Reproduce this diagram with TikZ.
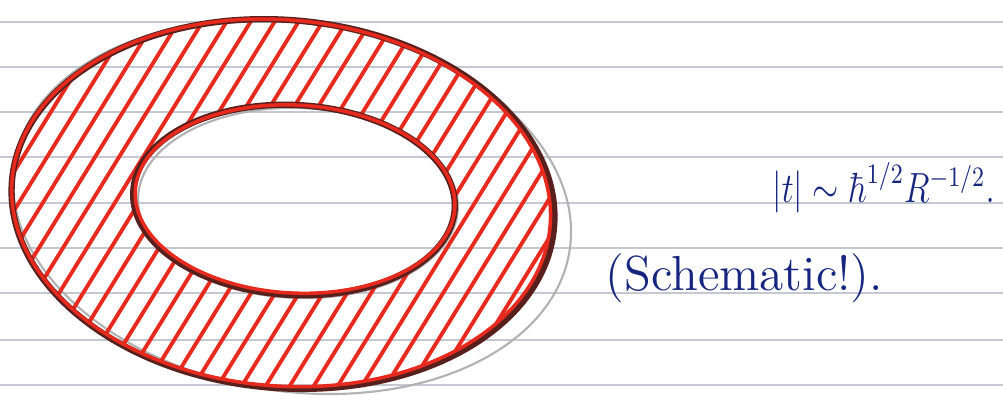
\documentclass[tikz,border=0pt]{standalone}
\usepackage{tikz}
\usetikzlibrary{positioning}
\definecolor{ink}{RGB}{22,38,128}
\definecolor{redpen}{RGB}{232,42,30}
\definecolor{darkpen}{RGB}{88,32,28}
\definecolor{ruling}{RGB}{196,200,210}
\definecolor{pencil}{RGB}{178,178,178}

\begin{document}
\begin{tikzpicture}[x=0.01cm, y=-0.01cm,
		rule/.style={draw=ruling, line width=0.7pt},
		sketch/.style={draw=pencil, line width=0.6pt},
		outline/.style={draw=darkpen, line width=1.8pt},
		redline/.style={draw=redpen, line width=1pt},
		hatch/.style={draw=redpen, line width=1.1pt},
		note/.style={text=ink, inner sep=0pt, anchor=base west}]
	
	\fill[white] (0,0) rectangle (1003,405);
	\useasboundingbox (0,0) rectangle (1003,405);
	
	% ruled paper
	\foreach \y in {22,67,112,157,203,248,293,340,385}
		\draw[rule] (0,\y) -- (1003,\y);
	
	% pencil underdrawing
	\draw[sketch, rotate around={-9:(292,207)}] (292,207) ellipse [x radius=281, y radius=184];
	\draw[sketch, rotate around={-2:(298,203)}] (298,203) ellipse [x radius=160, y radius=95];
	
	% hatched ring
	\begin{scope}[even odd rule]
		\clip {[rotate around={-5:(283,204)}] (283,204) ellipse [x radius=272, y radius=184]}
			{[rotate around={-3:(294,200)}] (294,200) ellipse [x radius=161, y radius=95]};
		\foreach \x in {-250,-226,...,580}
			\draw[hatch] (\x,405) -- ++(250,-405);
	\end{scope}
	
	% outer and inner rims
	\draw[outline, rotate around={-5:(283,204)}] (283,204) ellipse [x radius=272, y radius=184];
	\draw[redline, rotate around={-5:(283,204)}] (281,203) ellipse [x radius=270, y radius=183];
	\draw[outline, rotate around={-3:(294,200)}] (294,200) ellipse [x radius=161, y radius=95];
	\draw[redline, rotate around={-3:(294,200)}] (295,199) ellipse [x radius=160, y radius=94];
	
	% handwritten notes
	\node[note, font=\fontsize{11.5}{14}\selectfont, xscale=0.8, transform shape] (formula) at (772,202) {$|t|\sim\hbar^{1/2}R^{-1/2}.$};
	\node[note, font=\fontsize{14}{17}\selectfont] (remark) at (605,290) {(Schematic!).};
\end{tikzpicture}
\end{document}
